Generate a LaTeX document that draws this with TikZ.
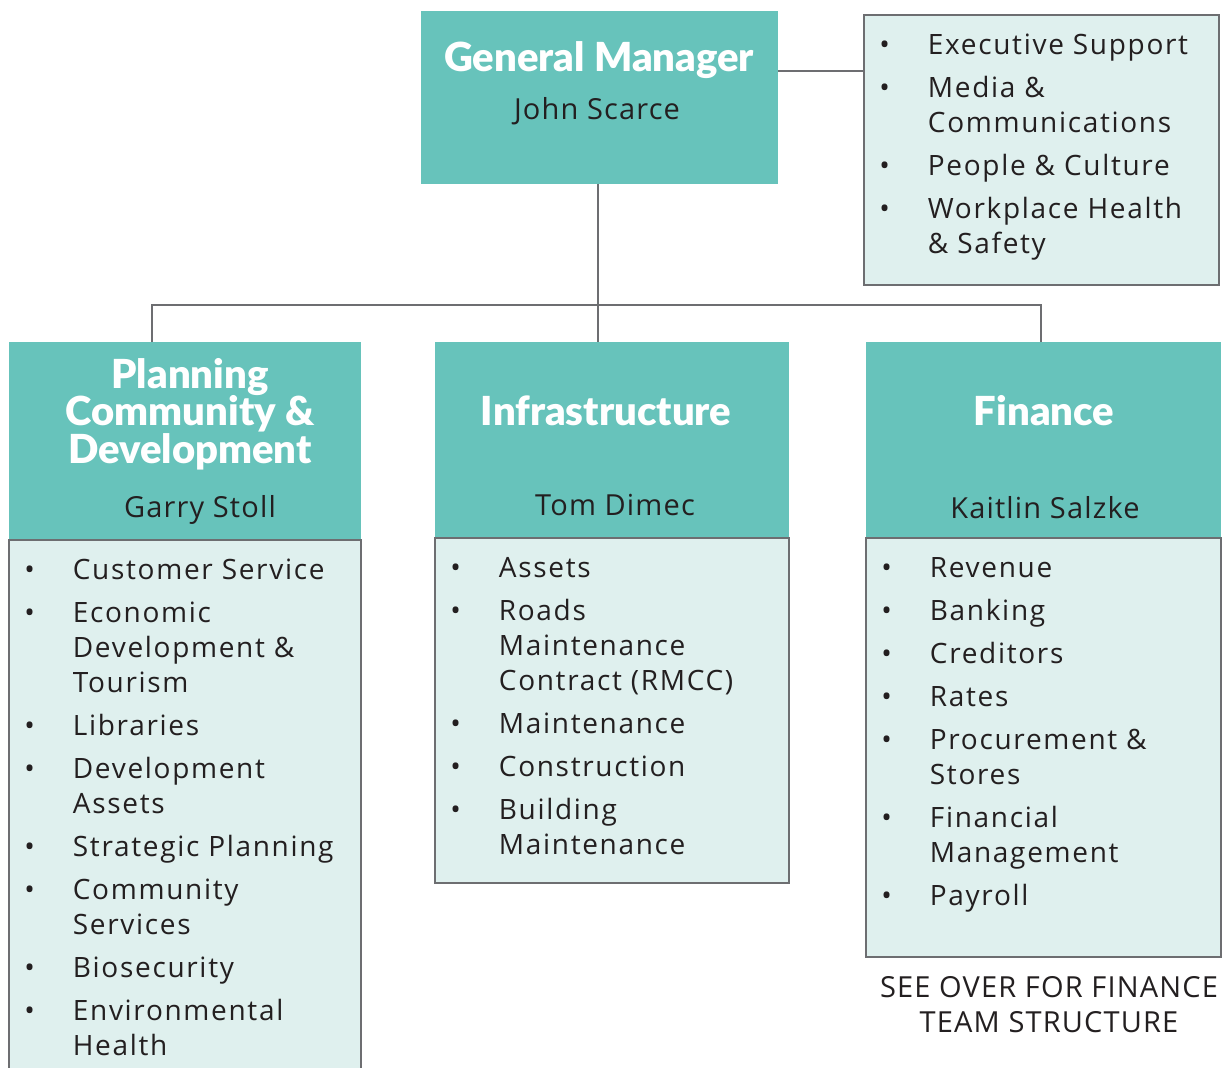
\documentclass[tikz,border=0pt]{standalone}
\usepackage{fontspec}
\setmainfont{Open Sans}[LetterSpace=4]
\newfontfamily\headfont{Lato}[BoldFont={Lato Black}]
\usetikzlibrary{positioning}
\definecolor{teal}{HTML}{67C3BB}
\definecolor{pale}{HTML}{DFF0EE}
\definecolor{rule}{HTML}{6D6E71}
\definecolor{ink}{HTML}{231F20}
\tikzstyle{head}=[fill=teal, inner sep=0pt, outer sep=0pt, anchor=north west]
\tikzstyle{body}=[draw=rule, line width=0.75pt, fill=pale, inner sep=0pt, outer sep=0pt, anchor=north west]
\tikzstyle{title}=[text=white, inner sep=0pt, align=center, font=\headfont\bfseries\fontsize{20}{18.75}\selectfont]
\tikzstyle{who}=[text=ink, inner sep=0pt, anchor=base, font=\fontsize{14.5}{17.5}\selectfont]
\tikzstyle{items}=[text=ink, inner sep=0pt, font=\fontsize{14}{17.5}\selectfont\addfontfeatures{LetterSpace=6}]
\tikzstyle{link}=[draw=rule, line width=0.75pt]
\newcommand{\bl}{\textbullet}
\newenvironment{duties}{\begin{tabular}{@{}p{24.25pt}@{}l@{}}}{\end{tabular}}

\begin{document}
\begin{tikzpicture}[x=0.5pt, y=-0.5pt]
        \useasboundingbox (0,0) rectangle (1224,1068);
        \node[head, minimum width=178.5pt, minimum height=86.5pt] (gm) at (421,11) {};
        \node[body, minimum width=177.5pt, minimum height=135pt] (staff) at (864,15) {};
        \node[head, minimum width=176pt, minimum height=99pt] (plan) at (9,342) {};
        \node[body, minimum width=176pt, minimum height=275pt] (planbody) at (9,540) {};
        \node[head, minimum width=177pt, minimum height=98pt] (infra) at (435,342) {};
        \node[body, minimum width=177pt, minimum height=172.5pt] (infrabody) at (435,538) {};
        \node[head, minimum width=177.5pt, minimum height=98pt] (fin) at (866,342) {};
        \node[body, minimum width=177.5pt, minimum height=209.5pt] (finbody) at (866,538) {};
        \coordinate (busl) at (152,305);
        \coordinate (busr) at (1041,305);
        \draw[link] ([yshift=-30pt]gm.north east) -- ([yshift=-30pt]gm.north east -| staff.west);
        \draw[link] (gm.south -| 598,0) -- (598,0 |- infra.north);
        \draw[link] (busl |- plan.north) -- (busl) -- (busr) -- (busr |- fin.north);
        \node[title, anchor=base] (gmtitle) at (599,72) {General Manager};
        \node[who] (gmname) at (597,120) {John Scarce};
        \node[title] (plantitle) at (190,414) {Planning\\Community \&\\Development};
        \node[who] (planname) at (200,517) {Garry Stoll};
        \node[title, anchor=base] (infratitle) at (606,426) {Infrastructure};
        \node[who] (infraname) at (615,516) {Tom Dimec};
        \node[title, anchor=base] (fintitle) at (1044,426) {Finance};
        \node[who] (finname) at (1045,518) {Kaitlin Salzke};
        \node[items, below right=7.25pt and 7.5pt of staff.north west] (stafflist) {\begin{duties}
            \bl & Executive Support\\[4pt]
            \bl & Media \&\\ & Communications\\[4pt]
            \bl & People \& Culture\\[4pt]
            \bl & Workplace Health\\ & \& Safety
        \end{duties}};
        \node[items, below right=7.25pt and 7.5pt of planbody.north west] (planlist) {\begin{duties}
            \bl & Customer Service\\[4pt]
            \bl & Economic\\ & Development \&\\ & Tourism\\[4pt]
            \bl & Libraries\\[4pt]
            \bl & Development\\ & Assets\\[4pt]
            \bl & Strategic Planning\\[4pt]
            \bl & Community\\ & Services\\[4pt]
            \bl & Biosecurity\\[4pt]
            \bl & Environmental\\ & Health
        \end{duties}};
        \node[items, below right=7.25pt and 7.5pt of infrabody.north west] (infralist) {\begin{duties}
            \bl & Assets\\[4pt]
            \bl & Roads\\ & Maintenance\\ & Contract (RMCC)\\[4pt]
            \bl & Maintenance\\[4pt]
            \bl & Construction\\[4pt]
            \bl & Building\\ & Maintenance
        \end{duties}};
        \node[items, below right=7.25pt and 7.5pt of finbody.north west] (finlist) {\begin{duties}
            \bl & Revenue\\[4pt]
            \bl & Banking\\[4pt]
            \bl & Creditors\\[4pt]
            \bl & Rates\\[4pt]
            \bl & Procurement \&\\ & Stores\\[4pt]
            \bl & Financial\\ & Management\\[4pt]
            \bl & Payroll
        \end{duties}};
        \node[who, anchor=center, align=center] (finnote) at (1049,1005) {SEE OVER FOR FINANCE\\TEAM STRUCTURE};
    \end{tikzpicture}
\end{document}
